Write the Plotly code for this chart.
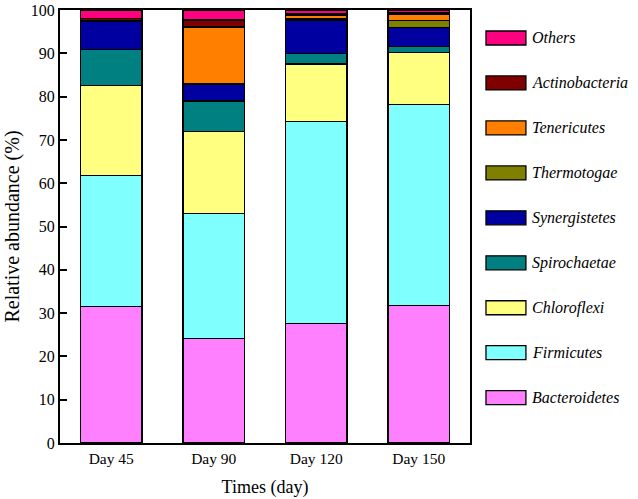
import plotly.graph_objects as go

days = ["Day 45", "Day 90", "Day 120", "Day 150"]
phyla = ["Bacteroidetes", "Firmicutes", "Chloroflexi", "Spirochaetae", "Synergistetes",
         "Thermotogae", "Tenericutes", "Actinobacteria", "Others"]
colors = ["#FF80FF", "#80FFFF", "#FFFF80", "#008080", "#0000A0",
          "#808000", "#FF8000", "#800000", "#FF0080"]

bacteroidetes = [31.5, 24.1, 27.6, 31.8]
firmicutes = [30.2, 28.9, 46.7, 46.4]
chloroflexi = [20.9, 18.9, 13.2, 12.0]
spirochaetae = [8.2, 7.1, 2.4, 1.3]
synergistetes = [6.6, 3.9, 7.6, 4.5]
thermotogae = [0.1, 0.0, 0.4, 1.5]
tenericutes = [0.1, 13.2, 0.8, 1.6]
actinobacteria = [0.5, 1.6, 0.4, 0.3]
others = [1.9, 2.3, 0.9, 0.6]

values = [bacteroidetes, firmicutes, chloroflexi, spirochaetae, synergistetes,
          thermotogae, tenericutes, actinobacteria, others]

yticks = list(range(0, 101, 10))

FONT = "Liberation Serif"
L, R, T, B = 59.5, 470, 10, 443
W, H = 638, 499

fig = go.Figure()
xs = list(range(len(days)))
for name, col, vals in zip(phyla, colors, values):
    fig.add_trace(go.Bar(x=xs, y=vals, name=name, width=0.6,
                         marker=dict(color=col, line=dict(color="#000000", width=1.3)),
                         showlegend=False))

# custom legend (top to bottom: Others ... Bacteroidetes)
leg_items = list(zip(phyla, colors))[::-1]
y0_px, step = 38.0, 44.96
pw, ph = R - L, B - T
for i, (name, col) in enumerate(leg_items):
    yc = y0_px + i * step
    fig.add_shape(type="rect", xref="paper", yref="paper",
                  x0=(486 - L) / pw, x1=(526 - L) / pw,
                  y0=(B - (yc + 7)) / ph, y1=(B - (yc - 7)) / ph,
                  fillcolor=col, line=dict(color="#000000", width=1.3))
    fig.add_annotation(xref="paper", yref="paper", x=(530 - L) / pw, y=(B - yc) / ph,
                       text="<i>%s</i>" % name, showarrow=False, xanchor="left", yanchor="middle",
                       font=dict(family=FONT, size=16, color="#000000"))

fig.update_layout(
    barmode="stack",
    width=W, height=H,
    margin=dict(l=L, r=W - R, t=T, b=H - B, autoexpand=False),
    plot_bgcolor="white", paper_bgcolor="white",
    font=dict(family=FONT, size=16, color="#000000"),
    xaxis=dict(range=[-0.5, 3.5], tickvals=xs, ticktext=days, showline=True, mirror=True,
               linecolor="#000000", linewidth=2, ticks="", showgrid=False, zeroline=False,
               automargin=False, tickfont=dict(size=15.5),
               title=dict(text="Times (day)", font=dict(size=18), standoff=15)),
    yaxis=dict(range=[0, 100], tickvals=yticks, showline=True, mirror=True,
               linecolor="#000000", linewidth=2, ticks="inside", ticklen=7, tickwidth=2,
               tickcolor="#000000", showgrid=False, zeroline=False,
               automargin=False, tickfont=dict(size=16),
               title=dict(text="Relative abundance (%)", font=dict(size=20), standoff=6)),
)

fig.write_html("out.html", config={"displayModeBar": False},
               post_script="document.body.style.margin='0px';")
